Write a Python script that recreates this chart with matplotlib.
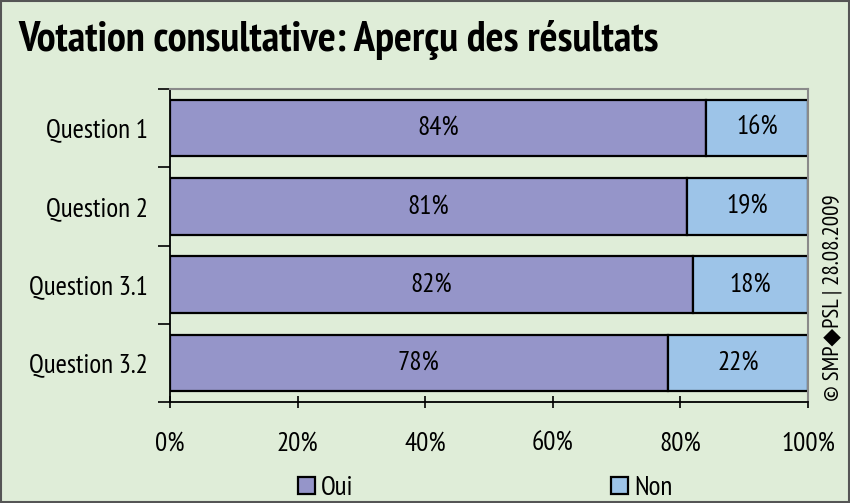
import matplotlib
matplotlib.use("Agg")
import logging
logging.getLogger("matplotlib.font_manager").setLevel(logging.ERROR)
import matplotlib.pyplot as plt
from matplotlib import font_manager
from matplotlib.patches import Patch
import numpy as np

questions = ["Question 1", "Question 2", "Question 3.1", "Question 3.2"]
oui = [84, 81, 82, 78]
non = [16, 19, 18, 22]
xticks = [0, 20, 40, 60, 80, 100]
xticklabels = ["0%", "20%", "40%", "60%", "80%", "100%"]
title = "Votation consultative: Aperçu des résultats"
credit = "© SMP◆PSL | 28.08.2009"

names = {f.name for f in font_manager.fontManager.ttflist}
cand = ["Liberation Sans Narrow", "Arial Narrow", "PT Sans Narrow", "Archivo Narrow",
        "Roboto Condensed", "DejaVu Sans"]
body = [c for c in cand if c in names] + ["DejaVu Sans"]
tcand = ["Liberation Sans Narrow", "Arial Narrow", "PT Sans Narrow", "Roboto Condensed",
         "Asap Condensed", "DejaVu Sans"]
tfam = [c for c in tcand if c in names] + ["DejaVu Sans"]
plt.rcParams['font.family'] = body

bg = "#DFEDD8"
c_oui = "#9595C9"
c_non = "#9DC4E8"
fs = 19.5

fig = plt.figure(figsize=(8.5, 5.03), dpi=100, facecolor=bg)
ax = fig.add_axes([170/850, 1-402/503, (808-170)/850, (402-89)/503])
ax.set_facecolor(bg)

y = np.arange(len(questions))
h = 0.72
ax.barh(y, oui, height=h, color=c_oui, edgecolor="black", linewidth=1.6, label="Oui")
ax.barh(y, non, left=oui, height=h, color=c_non, edgecolor="black", linewidth=1.6, label="Non")
for yi, a, b in zip(y, oui, non):
    ax.text(a/2, yi, f"{a}%", ha="center", va="center", fontsize=fs)
    ax.text(a + b/2, yi, f"{b}%", ha="center", va="center", fontsize=fs)

ax.set_xlim(0, 100)
ax.set_ylim(3.5, -0.5)
ax.set_yticks(y)
ax.set_yticklabels(questions, fontsize=fs)
ax.set_yticks([-0.5, 0.5, 1.5, 2.5, 3.5], minor=True)
ax.tick_params(axis="y", which="major", length=0, pad=16)
ax.tick_params(axis="y", which="minor", length=9, width=1.2, color="black", direction="out")
ax.set_xticks(xticks)
ax.set_xticklabels(xticklabels, fontsize=fs)
ax.tick_params(axis="x", length=9, width=1.2, direction="inout", pad=17)

for s in ["left", "bottom"]:
    ax.spines[s].set_color("black")
    ax.spines[s].set_linewidth(1.3)
for s in ["top", "right"]:
    ax.spines[s].set_color("#8A8A8A")
    ax.spines[s].set_linewidth(1.5)

fig.text(18/850, 1-40/503, title, fontsize=30.5, fontweight="bold", ha="left", va="center",
         family=tfam)
fig.text(833/850, 1-298/503, credit, fontsize=16.5, rotation=90, ha="center", va="center",
         family=body)

handles = [Patch(facecolor=c_oui, edgecolor="black", linewidth=1.6, label="Oui"),
           Patch(facecolor=c_non, edgecolor="black", linewidth=1.6, label="Non")]
fig.legend(handles=handles, loc="center", bbox_to_anchor=(0.571, 1-488/503), ncol=2,
           frameon=False, fontsize=fs, handlelength=0.62, handleheight=0.62,
           handletextpad=0.25, columnspacing=9.5)

border = plt.Rectangle((0.001, 0.001), 0.998, 0.998, transform=fig.transFigure,
                       fill=False, edgecolor="#555555", linewidth=1.5)
fig.patches.append(border)

fig.savefig("out.png", dpi=100, facecolor=bg)
